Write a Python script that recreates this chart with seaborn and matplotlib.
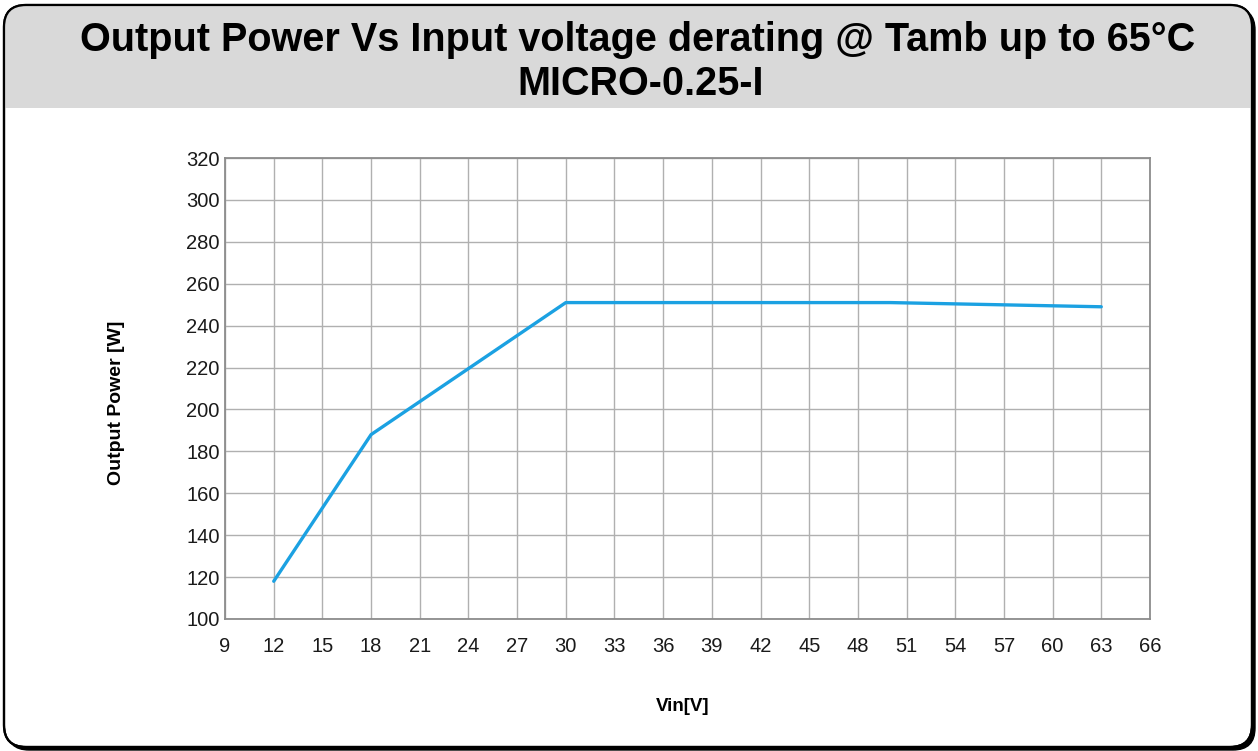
import matplotlib
matplotlib.use("Agg")
import matplotlib.pyplot as plt
import seaborn as sns
import pandas as pd
from matplotlib.patches import FancyBboxPatch, Rectangle

# data
vin = [12, 18, 30, 50, 63]
power = [118, 188, 251, 251, 249]
x_ticks = list(range(9, 67, 3))
y_ticks = list(range(100, 321, 20))

title_line1 = "Output Power Vs Input voltage derating @ Tamb up to 65°C"
title_line2 = "MICRO-0.25-I"

sns.set_style("white")
plt.rcParams['font.family'] = ['Liberation Sans', 'DejaVu Sans']

df = pd.DataFrame({'Vin': vin, 'Power': power})

fig = plt.figure(figsize=(12.58, 7.51), dpi=100)

# rounded frame with a dark shadow on the lower right
shadow = FancyBboxPatch((0.07, 0.01), 12.48, 7.42, boxstyle="round,pad=0,rounding_size=0.22",
                        transform=fig.dpi_scale_trans, facecolor='black', edgecolor='black', zorder=0)
frame = FancyBboxPatch((0.04, 0.04), 12.48, 7.42, boxstyle="round,pad=0,rounding_size=0.22",
                       transform=fig.dpi_scale_trans, facecolor='white', edgecolor='black',
                       linewidth=1.6, zorder=1)
fig.add_artist(shadow)
fig.add_artist(frame)
band = Rectangle((0.0, 6.43), 12.58, 1.2, transform=fig.dpi_scale_trans,
                 facecolor='#d9d9d9', edgecolor='none', zorder=2)
band.set_clip_path(frame)
fig.add_artist(band)
fig.add_artist(FancyBboxPatch((0.04, 0.04), 12.48, 7.42, boxstyle="round,pad=0,rounding_size=0.22",
                              transform=fig.dpi_scale_trans, facecolor='none', edgecolor='black',
                              linewidth=1.6, zorder=3))

fig.text(0.507, 0.947, title_line1, ha='center', va='center', fontsize=28.5, fontweight='bold',
         color='black', zorder=4)
fig.text(0.509, 0.888, title_line2, ha='center', va='center', fontsize=28.5, fontweight='bold',
         color='black', zorder=4)

ax = fig.add_axes([0.1789, 0.1758, 0.7352, 0.6138])
ax.set_zorder(5)
ax.patch.set_alpha(0)

sns.lineplot(data=df, x='Vin', y='Power', color='#1ba1e2', linewidth=2.4, ax=ax)

ax.set_xlim(9, 66)
ax.set_ylim(100, 320)
ax.set_xticks(x_ticks)
ax.set_yticks(y_ticks)
ax.tick_params(axis='both', length=0, labelsize=14.5, colors='#1a1a1a')
ax.tick_params(axis='x', pad=13)
ax.tick_params(axis='y', pad=4)
ax.grid(True, color='#b0b0b0', linewidth=1.0)
ax.set_axisbelow(True)
for side in ['left', 'bottom', 'right', 'top']:
    ax.spines[side].set_visible(True)
    ax.spines[side].set_color('#8c8c8c')
    ax.spines[side].set_linewidth(1.3)

ax.set_xlabel("Vin[V]", fontsize=13.5, fontweight='bold', color='black')
ax.set_ylabel("Output Power [W]", fontsize=14, fontweight='bold', color='black')
ax.xaxis.set_label_coords(0.495, -0.172)
ax.yaxis.set_label_coords(-0.108, 0.469)

fig.savefig("out.png", dpi=100)
